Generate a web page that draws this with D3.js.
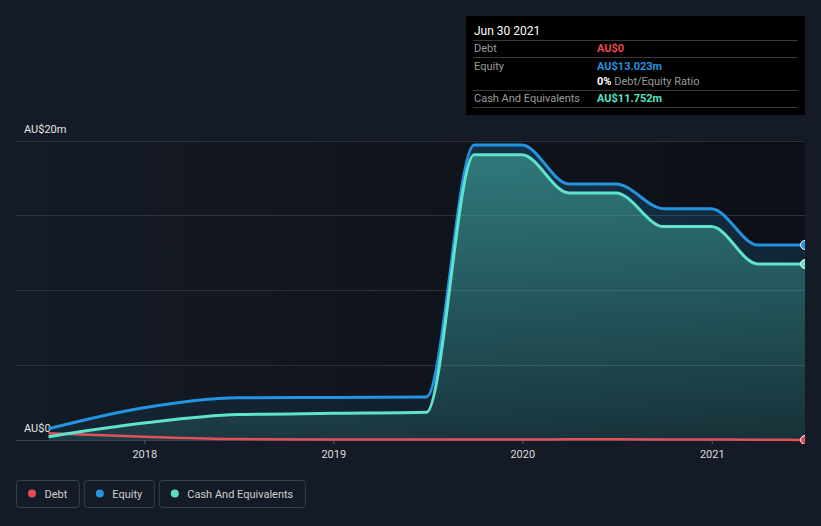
<!DOCTYPE html>
<html><head><meta charset="utf-8">
<script src="https://cdn.jsdelivr.net/npm/d3@7/dist/d3.min.js"></script>
<style>
html,body{margin:0;padding:0;background:#151b26;}
svg{display:block;font-family:Roboto,"Noto Sans",sans-serif;}
</style></head>
<body>
<svg id="chart" width="821" height="526"></svg>
<script>
const dates = ["2017-06-30","2017-12-31","2018-06-30","2018-12-31","2019-06-30","2019-09-30","2019-12-31","2020-03-31","2020-06-30","2020-09-30","2020-12-31","2021-03-31","2021-06-30"];
const equity = [0.75,2.15,2.82,2.84,2.87,19.7,19.7,17.1,17.1,15.45,15.45,13.023,13.023];
const cash   = [0.22,1.13,1.70,1.78,1.85,19.05,19.05,16.5,16.5,14.25,14.25,11.752,11.752];
const debt   = [0.45,0.22,0.06,0.03,0.03,0.03,0.03,0.05,0.05,0.04,0.03,0.02,0];
const yTicks = [0,5,10,15,20];
const yLabels = [{v:0,t:"AU$0"},{v:20,t:"AU$20m"}];
const xTickYears = ["2018","2019","2020","2021"];
const tooltipRows = [
  {label:"Debt", value:"AU$0", color:"#e84a4a"},
  {label:"Equity", value:"AU$13.023m", color:"#2394df"},
  {label:"Cash And Equivalents", value:"AU$11.752m", color:"#58e0c5"}
];
const legendItems = [
  {name:"Debt", color:"#e84a4f"},
  {name:"Equity", color:"#2394df"},
  {name:"Cash And Equivalents", color:"#58e0c5"}
];

(function(){
const parse = d3.timeParse("%Y-%m-%d");
const data = dates.map((d,i)=>({date:parse(d), equity:equity[i], cash:cash[i], debt:debt[i]}));

const svg = d3.select("#chart");
const pL = 48.5, pR = 805, pT = 140.5, pB = 440;
const x = d3.scaleTime().domain([data[0].date, data[data.length-1].date]).range([pL, pR]);
const y = d3.scaleLinear().domain([0,20]).range([pB, pT]);

const defs = svg.append("defs");
const bgGrad = defs.append("linearGradient").attr("id","bgGrad").attr("x1","0").attr("x2","1").attr("y1","0").attr("y2","0");
bgGrad.append("stop").attr("offset","0").attr("stop-color","#141a24");
bgGrad.append("stop").attr("offset","1").attr("stop-color","#0c0f15");
const eqGrad = defs.append("linearGradient").attr("id","eqGrad").attr("gradientUnits","userSpaceOnUse")
  .attr("x1",0).attr("x2",0).attr("y1",pT).attr("y2",pB);
eqGrad.append("stop").attr("offset","0").attr("stop-color","#2394df").attr("stop-opacity",0.24);
eqGrad.append("stop").attr("offset","1").attr("stop-color","#2394df").attr("stop-opacity",0.07);
const caGrad = defs.append("linearGradient").attr("id","caGrad").attr("gradientUnits","userSpaceOnUse")
  .attr("x1",0).attr("x2",0).attr("y1",pT).attr("y2",pB);
caGrad.append("stop").attr("offset","0").attr("stop-color","#58e0c5").attr("stop-opacity",0.42);
caGrad.append("stop").attr("offset","1").attr("stop-color","#58e0c5").attr("stop-opacity",0.12);
defs.append("clipPath").attr("id","clip").append("rect")
  .attr("x",pL-2).attr("y",0).attr("width",pR-pL+2).attr("height",pB+4);

svg.append("rect").attr("x",pL).attr("y",pT).attr("width",pR-pL).attr("height",pB-pT).attr("fill","url(#bgGrad)");

svg.append("g").selectAll("line").data(yTicks).join("line")
  .attr("x1",16).attr("x2",pR).attr("y1",d=>Math.round(y(d))+0.5).attr("y2",d=>Math.round(y(d))+0.5)
  .attr("stroke",d=>d===0?"#3c414b":"#2c313b").attr("stroke-width",1);

const xAxis = d3.axisBottom(x)
  .tickValues(xTickYears.map(t=>parse(t+"-01-01")))
  .tickFormat(d3.timeFormat("%Y")).tickSize(4).tickPadding(6);
const gx = svg.append("g").attr("transform",`translate(0,${pB})`).call(xAxis);
gx.select(".domain").remove();
gx.selectAll(".tick line").attr("stroke","#555a63");
gx.selectAll(".tick text").attr("fill","#dcdcdc").attr("font-size",11).attr("font-family","Roboto,sans-serif");

svg.append("g").selectAll("text").data(yLabels).join("text")
  .attr("x",24).attr("y",d=>y(d.v)-8).text(d=>d.t)
  .attr("fill","#e6e6e6").attr("font-size",11);

const curve = d3.curveMonotoneX;
const plot = svg.append("g").attr("clip-path","url(#clip)");
plot.append("path").datum(data)
  .attr("d", d3.area().x(d=>x(d.date)).y0(y(0)).y1(d=>y(d.equity)).curve(curve))
  .attr("fill","url(#eqGrad)");
plot.append("path").datum(data)
  .attr("d", d3.area().x(d=>x(d.date)).y0(y(0)).y1(d=>y(d.cash)).curve(curve))
  .attr("fill","url(#caGrad)");

const series = [
  {key:"debt", color:"#e0525a", w:2.5},
  {key:"equity", color:"#2394df", w:3},
  {key:"cash", color:"#5fe3cb", w:3}
];
series.forEach(s=>{
  plot.append("path").datum(data)
    .attr("d", d3.line().x(d=>x(d.date)).y(d=>y(d[s.key])).curve(curve))
    .attr("fill","none").attr("stroke",s.color).attr("stroke-width",s.w);
});
const last = data[data.length-1];
series.forEach(s=>{
  plot.append("circle").attr("cx",x(last.date)).attr("cy",y(last[s.key])).attr("r",4.5)
    .attr("fill",s.key==="debt"?"#e84a4f":s.color).attr("stroke","#ffffff").attr("stroke-width",1);
});

const tt = svg.append("g");
tt.append("rect").attr("x",466).attr("y",16).attr("width",339).attr("height",99).attr("fill","#000");
tt.append("text").attr("x",474).attr("y",34.5).text("Jun 30 2021").attr("fill","#fff").attr("font-size",12);
[40.5,57.5,90.5,107.5].forEach(ly=>{
  tt.append("line").attr("x1",473).attr("x2",798).attr("y1",ly).attr("y2",ly).attr("stroke","#3a3a3a");
});
const rowY = [52, 69.5, 101.5];
tooltipRows.forEach((r,i)=>{
  tt.append("text").attr("x",474).attr("y",rowY[i]).text(r.label).attr("fill","#9a9a9a").attr("font-size",11);
  tt.append("text").attr("x",597).attr("y",rowY[i]).text(r.value).attr("fill",r.color).attr("font-size",11).attr("font-weight","bold");
});
const ratio = tt.append("text").attr("x",597).attr("y",85).attr("font-size",11);
ratio.append("tspan").text("0%").attr("fill","#fff").attr("font-weight","bold");
ratio.append("tspan").text(" Debt/Equity Ratio").attr("fill","#9a9a9a");

const lg = svg.append("g");
let lx = 16.5;
legendItems.forEach(it=>{
  const g = lg.append("g");
  const t = g.append("text").attr("x",lx+28).attr("y",497.5).text(it.name).attr("fill","#cfcfcf").attr("font-size",11);
  const w = t.node().getComputedTextLength() + 28 + 12;
  g.insert("rect","text").attr("x",lx).attr("y",480.5).attr("width",w).attr("height",27).attr("rx",3)
    .attr("fill","none").attr("stroke","#3a3f49");
  g.append("circle").attr("cx",lx+15.5).attr("cy",493.5).attr("r",4).attr("fill",it.color);
  lx += w + 5;
});
})();
</script>
</body></html>
